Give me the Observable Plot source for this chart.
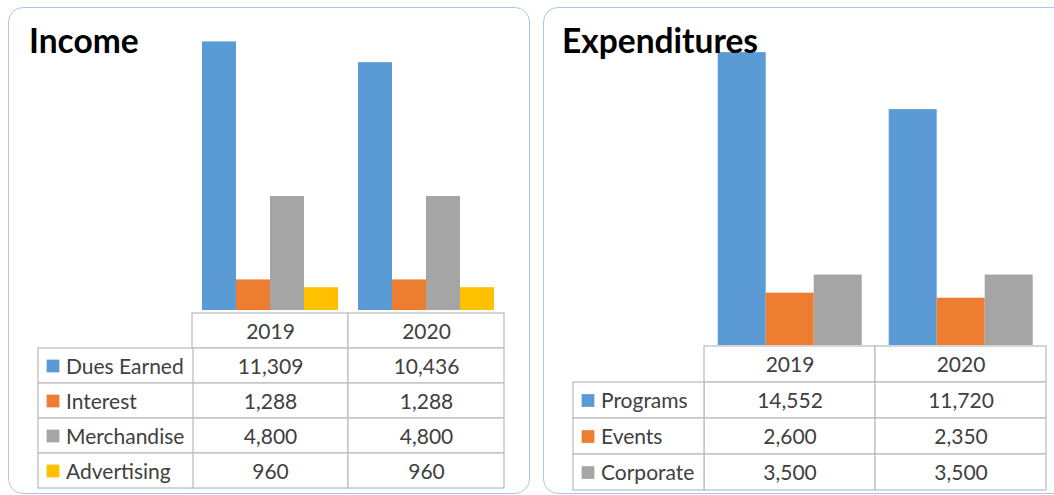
<!DOCTYPE html>
<html><head><meta charset="utf-8">
<script src="https://cdn.jsdelivr.net/npm/d3@7"></script>
<script src="https://cdn.jsdelivr.net/npm/@observablehq/plot@0.6"></script>
<style>
html,body{margin:0;padding:0;background:#fff;width:1054px;height:495px;overflow:hidden;position:relative;font-family:Lato,"Noto Sans",sans-serif;}
.panel{position:absolute;border:1.5px solid #a9c8ea;border-radius:15px;box-sizing:border-box;}
.title{position:absolute;font-weight:700;font-size:33.5px;color:#000;z-index:5;line-height:1;white-space:nowrap;}
.abs{position:absolute;}
svg{overflow:visible;}
</style></head><body>
<script>
// ---- data ----
const years = ["2019", "2020"];
const incomeCategories = ["Dues Earned", "Interest", "Merchandise", "Advertising"];
const income2019 = [11309, 1288, 4800, 960];
const income2020 = [10436, 1288, 4800, 960];
const expenseCategories = ["Programs", "Events", "Corporate"];
const expense2019 = [14552, 2600, 3500];
const expense2020 = [11720, 2350, 3500];
const incomeColors = ["#5b9bd5", "#ed7d31", "#a5a5a5", "#ffc000"];
const expenseColors = ["#5b9bd5", "#ed7d31", "#a5a5a5"];

const fmt = d3.format(",");
const GRID = "#bfbfbf";
const TXT = "#404040";
const FONT = "Lato, 'Noto Sans', sans-serif";
const FS = 21;

function place(el, left, top) {
  el.classList.add("abs");
  el.style.left = left + "px";
  el.style.top = top + "px";
  document.body.appendChild(el);
}

function panel(cfg) {
  const box = document.createElement("div");
  box.className = "panel";
  Object.assign(box.style, {left: cfg.box[0] + "px", top: cfg.box[1] + "px", width: cfg.box[2] + "px", height: cfg.box[3] + "px"});
  document.body.appendChild(box);

  const t = document.createElement("div");
  t.className = "title";
  t.textContent = cfg.title;
  t.style.left = cfg.titlePos[0] + "px";
  t.style.top = cfg.titlePos[1] + "px";
  document.body.appendChild(t);

  const series = [cfg.v2019, cfg.v2020];
  const rows = years.flatMap((yr, i) => cfg.cats.map((c, j) => ({year: yr, category: c, value: series[i][j]})));

  // bars
  const bars = Plot.plot({
    width: cfg.width, height: cfg.baseY,
    marginLeft: cfg.colL, marginRight: cfg.width - cfg.colR, marginTop: cfg.yTop, marginBottom: 0,
    style: {background: "transparent", fontFamily: FONT},
    fx: {domain: years, padding: 0, axis: null},
    x: {domain: cfg.cats, paddingInner: 0, paddingOuter: 0.25, axis: null},
    y: {domain: [0, cfg.ymax], axis: null},
    color: {domain: cfg.cats, range: cfg.colors},
    marks: [Plot.barY(rows, {fx: "year", x: "category", y: "value", fill: "category", inset: 0})]
  });
  place(bars, cfg.left, 0);

  // table — value columns
  const rowDomain = ["header", ...cfg.cats];
  const tH = cfg.tableBottom - cfg.baseY;
  const headerCells = years.map(yr => ({year: yr, row: "header", label: yr}));
  const valueCells = rows.map(d => ({year: d.year, row: d.category, label: fmt(d.value)}));
  const cells = [...headerCells, ...valueCells];
  const table = Plot.plot({
    width: cfg.width, height: tH + 1,
    marginLeft: cfg.colL, marginRight: cfg.width - cfg.colR, marginTop: 0.5, marginBottom: 0.5,
    style: {background: "transparent", fontFamily: FONT},
    x: {domain: years, padding: 0, axis: null},
    y: {domain: rowDomain, padding: 0, axis: null},
    marks: [
      Plot.cell(cells, {x: "year", y: "row", fill: "white", stroke: GRID, strokeWidth: 1.3, inset: 0}),
      Plot.text(cells, {x: "year", y: "row", text: "label", fill: TXT, fontSize: FS, dy: 1})
    ]
  });
  place(table, cfg.left, cfg.baseY);

  // table — label column
  const labW = cfg.colL - cfg.labL;
  const labels = Plot.plot({
    width: labW + 1, height: tH + 1,
    marginLeft: 0.5, marginRight: 0.5, marginTop: 0.5, marginBottom: 0.5,
    style: {background: "transparent", fontFamily: FONT},
    x: {domain: ["label"], padding: 0, axis: null},
    y: {domain: rowDomain, padding: 0, axis: null},
    color: {domain: cfg.cats, range: cfg.colors},
    marks: [
      Plot.cell(cfg.cats, {x: () => "label", y: d => d, fill: "white", stroke: GRID, strokeWidth: 1.3, inset: 0}),
      Plot.dot(cfg.cats, {y: d => d, frameAnchor: "left", dx: cfg.sqX, symbol: "square", r: 7.2, fill: d => d, stroke: null}),
      Plot.text(cfg.cats, {y: d => d, frameAnchor: "left", dx: cfg.txtX, text: d => d, textAnchor: "start", fill: TXT, fontSize: FS, dy: 1})
    ]
  });
  place(labels, cfg.left + cfg.labL - 0.5, cfg.baseY);
}

panel({
  title: "Income", titlePos: [29, 23.5], box: [8, 7, 522, 487],
  cats: incomeCategories, v2019: income2019, v2020: income2020, colors: incomeColors,
  left: 0, width: 530, colL: 192, colR: 504, labL: 37,
  baseY: 310, yTop: 25, ymax: 12000, tableBottom: 489,
  sqX: 15, txtX: 28
});

panel({
  title: "Expenditures", titlePos: [562, 23.5], box: [543, 7, 540, 487],
  cats: expenseCategories, v2019: expense2019, v2020: expense2020, colors: expenseColors,
  left: 540, width: 514, colL: 163.3, colR: 506.7, labL: 32.3,
  baseY: 345, yTop: 23, ymax: 16000, tableBottom: 489,
  sqX: 15, txtX: 28
});
</script>
</body></html>
